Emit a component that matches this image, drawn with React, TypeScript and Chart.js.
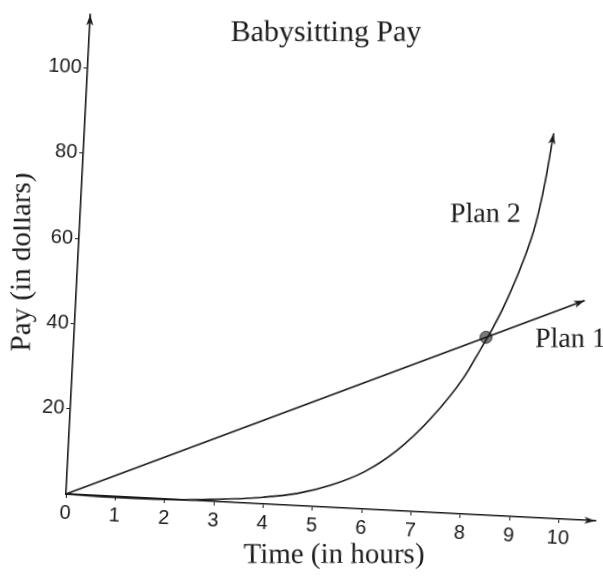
import React, { useEffect, useRef } from "react";
import { Chart, registerables } from "chart.js";

Chart.register(...registerables);

// ---- data ----
const hourTicks = [0, 1, 2, 3, 4, 5, 6, 7, 8, 9, 10];
const payTicks = [20, 40, 60, 80, 100];

const plan1Hours = [0, 10.3];
const plan1Pay = [0, 51.5];

const plan2Hours = [0, 1, 2, 3, 4, 4.69, 5.35, 6.01, 6.65, 7.29, 7.92, 8.25, 8.47, 8.7, 9.0, 9.23, 9.38, 9.5];
const plan2Pay = [0, -0.2, -0.1, 0.5, 1.6, 2.9, 5.2, 8.7, 14.1, 21.8, 31.8, 39.0, 44.0, 50.0, 59.5, 68.9, 79.0, 90.3];

const meetHours = [8.34];
const meetPay = [41.7];

const xMax = 10.74;
const yMax = 112.6;

// ---- style ----
const W = 603;
const H = 581;
const TILT = 2.9; // degrees, the scan is rotated clockwise
const ORIGIN_X = 66;
const ORIGIN_Y = 494;
const INK = "#1b1b1b";
const SERIF = '"Liberation Serif", "Times New Roman", serif';
const SANS = '"Liberation Sans", Arial, sans-serif';

function arrowHead(ctx: CanvasRenderingContext2D, x0: number, y0: number, x1: number, y1: number) {
  const ang = Math.atan2(y1 - y0, x1 - x0);
  const len = 11;
  const half = 3.6;
  ctx.save();
  ctx.translate(x1, y1);
  ctx.rotate(ang);
  ctx.beginPath();
  ctx.moveTo(0, 0);
  ctx.lineTo(-len, -half);
  ctx.lineTo(-len + 3, 0);
  ctx.lineTo(-len, half);
  ctx.closePath();
  ctx.fillStyle = INK;
  ctx.fill();
  ctx.restore();
}

const decorations = {
  id: "decorations",
  afterDatasetsDraw(chart: any) {
    const ctx: CanvasRenderingContext2D = chart.ctx;
    const { left, right, top, bottom } = chart.chartArea;
    arrowHead(ctx, right - 20, bottom, right, bottom);
    arrowHead(ctx, left, top + 20, left, top);
    [0, 1].forEach((i) => {
      const pts = chart.getDatasetMeta(i).data;
      const a = pts[pts.length - 2];
      const b = pts[pts.length - 1];
      arrowHead(ctx, a.x, a.y, b.x, b.y);
    });

    // texts stay level on the page: undo the canvas tilt
    const t = (TILT * Math.PI) / 180;
    ctx.save();
    ctx.translate(ORIGIN_X, ORIGIN_Y);
    ctx.rotate(-t);
    ctx.translate(-ORIGIN_X, -ORIGIN_Y);
    ctx.fillStyle = INK;
    ctx.textBaseline = "alphabetic";
    ctx.textAlign = "center";
    ctx.font = `30px ${SERIF}`;
    ctx.fillText("Babysitting Pay", 326, 41);
    ctx.font = `29px ${SERIF}`;
    ctx.fillText("Time (in hours)", 334, 563);
    ctx.save();
    ctx.translate(30, 262);
    ctx.rotate(-Math.PI / 2);
    ctx.fillText("Pay (in dollars)", 0, 0);
    ctx.restore();
    ctx.textAlign = "left";
    ctx.font = `28px ${SERIF}`;
    ctx.fillText("Plan 2", 450, 222);
    ctx.fillText("Plan 1", 535, 347);
    ctx.restore();
  },
};

export default function App() {
  const ref = useRef<HTMLCanvasElement | null>(null);

  useEffect(() => {
    if (!ref.current) return;
    const chart = new Chart(ref.current, {
      type: "line",
      data: {
        datasets: [
          {
            label: "Plan 1",
            data: plan1Hours.map((x, i) => ({ x, y: plan1Pay[i] })),
            borderColor: INK,
            borderWidth: 1.6,
            pointRadius: 0,
            fill: false,
            clip: false as any,
          },
          {
            label: "Plan 2",
            data: plan2Hours.map((x, i) => ({ x, y: plan2Pay[i] })),
            borderColor: INK,
            borderWidth: 1.6,
            pointRadius: 0,
            cubicInterpolationMode: "monotone",
            fill: false,
            clip: false as any,
          },
          {
            label: "Meet",
            data: meetHours.map((x, i) => ({ x, y: meetPay[i] })),
            showLine: false,
            pointRadius: 6,
            pointBackgroundColor: "#7a7a7a",
            pointBorderColor: "#3a3a3a",
            pointBorderWidth: 1,
            clip: false as any,
          },
        ],
      },
      options: {
        animation: false,
        responsive: false,
        maintainAspectRatio: false,
        events: [],
        layout: { padding: { top: 7.4, right: 2.3, left: 0, bottom: 0 } },
        plugins: {
          legend: { display: false },
          tooltip: { enabled: false },
          title: { display: false },
        },
        scales: {
          x: {
            type: "linear",
            min: 0,
            max: xMax,
            afterFit: (s: any) => {
              s.height = H - ORIGIN_Y;
            },
            afterBuildTicks: (s: any) => {
              s.ticks = hourTicks.map((v) => ({ value: v }));
            },
            grid: { display: true, drawOnChartArea: false, drawTicks: true, tickLength: 4, color: INK, lineWidth: 1 },
            border: { display: true, color: INK, width: 1.6 },
            ticks: {
              color: INK,
              padding: 3,
              maxRotation: 0,
              minRotation: 0,
              autoSkip: false,
              font: { family: SANS, size: 20 },
            },
          },
          y: {
            type: "linear",
            min: 0,
            max: yMax,
            afterFit: (s: any) => {
              s.width = ORIGIN_X;
            },
            afterBuildTicks: (s: any) => {
              s.ticks = payTicks.map((v) => ({ value: v }));
            },
            grid: { display: true, drawOnChartArea: false, drawTicks: true, tickLength: 4, color: INK, lineWidth: 1 },
            border: { display: true, color: INK, width: 1.6 },
            ticks: {
              color: INK,
              padding: 2,
              autoSkip: false,
              font: { family: SANS, size: 20 },
            },
          },
        },
      } as any,
      plugins: [decorations],
    });
    return () => chart.destroy();
  }, []);

  return (
    <div
      style={{
        position: "fixed",
        left: 0,
        top: 0,
        width: W,
        height: H,
        overflow: "hidden",
        background: "#fff",
      }}
    >
      <canvas
        ref={ref}
        width={W}
        height={H}
        style={{
          display: "block",
          width: W,
          height: H,
          transform: `rotate(${TILT}deg)`,
          transformOrigin: `${ORIGIN_X}px ${ORIGIN_Y}px`,
        }}
      />
    </div>
  );
}
